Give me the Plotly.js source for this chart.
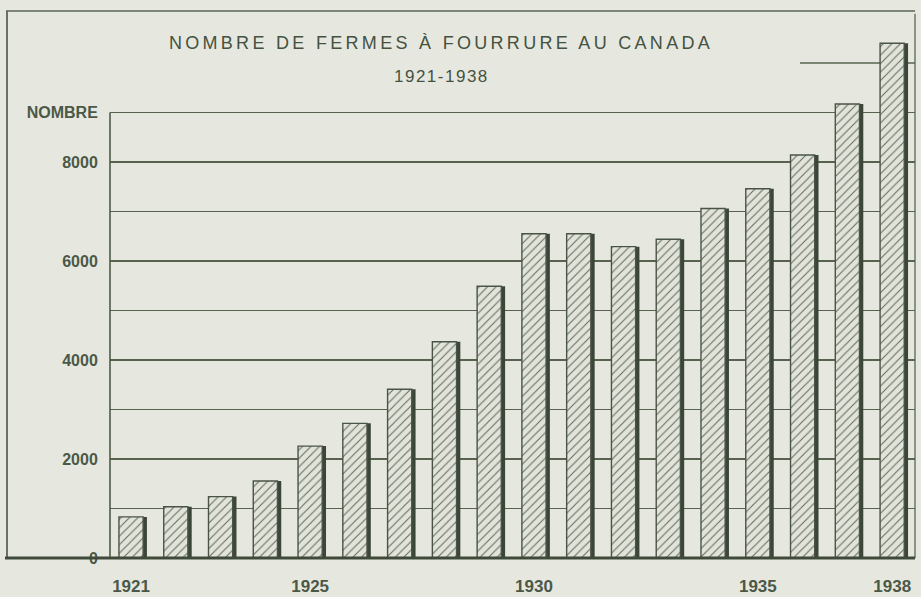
<!DOCTYPE html>
<html>
<head>
<meta charset="utf-8">
<script src="https://cdn.plot.ly/plotly-3.0.1.min.js"></script>
<style>
html, body { margin: 0; padding: 0; background: #e6e8df; }
#chart { width: 921px; height: 597px; }
.gtitle { letter-spacing: 3.3px; }
.annotation-text { letter-spacing: 1.5px; }
</style>
</head>
<body>
<div id="chart"></div>
<script>
// Data
const years = [1921, 1922, 1923, 1924, 1925, 1926, 1927, 1928, 1929,
               1930, 1931, 1932, 1933, 1934, 1935, 1936, 1937, 1938];
const farms = [830, 1035, 1240, 1555, 2260, 2720, 3410, 4370, 5490,
               6550, 6550, 6290, 6440, 7060, 7460, 8140, 9170, 10400];
const xTickVals = [1921, 1925, 1930, 1935, 1938];
const xTickText = ['1921', '1925', '1930', '1935', '1938'];
const yTickVals = [0, 1000, 2000, 3000, 4000, 5000, 6000, 7000, 8000, 9000];
const yTickText = ['0', '', '2000', '', '4000', '', '6000', '', '8000', 'NOMBRE'];
const titleText = 'NOMBRE DE FERMES À FOURRURE AU CANADA';
const subtitleText = '1921-1938';

const ink = '#4b5847';
const barW = 0.54;

const shadow = {
  type: 'bar', x: years, y: farms,
  width: barW, offset: -barW / 2 + 0.085,
  marker: { color: '#3c4638', line: { width: 0 } },
  hoverinfo: 'skip', showlegend: false
};
const bars = {
  type: 'bar', x: years, y: farms,
  width: barW, offset: -barW / 2,
  marker: {
    color: '#e2e4da',
    line: { color: '#4a5446', width: 1.4 },
    pattern: { shape: '/', fgcolor: '#646d5f', bgcolor: '#e2e4da', size: 6, solidity: 0.18 }
  },
  showlegend: false
};

const L = 110, R = 915, W = 805;
const px = v => (v - L) / W;

const layout = {
  width: 921, height: 597,
  margin: { l: 110, r: 6, t: 11, b: 39 },
  paper_bgcolor: '#e6e8df',
  plot_bgcolor: '#e6e8df',
  barmode: 'overlay',
  font: { family: 'Liberation Sans, Arial, sans-serif', color: ink },
  title: {
    text: titleText,
    font: { family: 'Liberation Sans, Arial, sans-serif', size: 18, color: '#44523f' },
    xref: 'container', x: 441 / 921, xanchor: 'center',
    yref: 'container', y: 1 - 43 / 597, yanchor: 'middle'
  },
  annotations: [{
    text: subtitleText, showarrow: false,
    xref: 'paper', x: px(441), xanchor: 'center',
    yref: 'paper', y: (558 - 76) / 547, yanchor: 'middle',
    font: { family: 'Liberation Sans, Arial, sans-serif', size: 17, color: '#44523f' }
  }],
  xaxis: {
    range: [1920.53, 1938.51],
    tickmode: 'array', tickvals: xTickVals, ticktext: xTickText,
    ticks: 'outside', ticklen: 13, tickcolor: 'rgba(0,0,0,0)',
    tickfont: { family: 'Liberation Sans Narrow, Arial Narrow, sans-serif', size: 17, color: ink, weight: 'bold' },
    showgrid: false, zeroline: false, showline: false, fixedrange: true
  },
  yaxis: {
    range: [0, 11050],
    tickmode: 'array', tickvals: yTickVals, ticktext: yTickText,
    ticks: 'outside', ticklen: 8, tickcolor: 'rgba(0,0,0,0)',
    tickfont: { family: 'Liberation Sans, Arial, sans-serif', size: 16, color: ink, weight: 'bold' },
    showgrid: true, gridcolor: '#58634f', gridwidth: 1.3,
    zeroline: false, showline: false, fixedrange: true
  },
  shapes: [
    { type: 'line', xref: 'paper', yref: 'paper', x0: px(6), x1: 1, y0: 1, y1: 1,
      line: { color: '#5a6553', width: 1.5 } },
    { type: 'line', xref: 'paper', yref: 'paper', x0: px(7), x1: px(7), y0: 0, y1: 1,
      line: { color: '#5a6553', width: 1.8 } },
    { type: 'line', xref: 'paper', yref: 'paper', x0: 1, x1: 1, y0: 0, y1: 0.995,
      line: { color: '#5a6553', width: 1.3 } },
    { type: 'line', xref: 'paper', yref: 'y', x0: px(800), x1: 1, y0: 10000, y1: 10000,
      line: { color: '#58634f', width: 1.3 }, layer: 'below' },
    { type: 'line', xref: 'paper', yref: 'y', x0: 0, x1: 0, y0: 0, y1: 9000,
      line: { color: '#4f5a4a', width: 1.6 } },
    { type: 'line', xref: 'paper', yref: 'paper', x0: px(5), x1: 1, y0: 0, y1: 0,
      line: { color: '#3f4a3b', width: 3 } }
  ]
};

Plotly.newPlot('chart', [shadow, bars], layout, { displayModeBar: false, staticPlot: true });
</script>
</body>
</html>
